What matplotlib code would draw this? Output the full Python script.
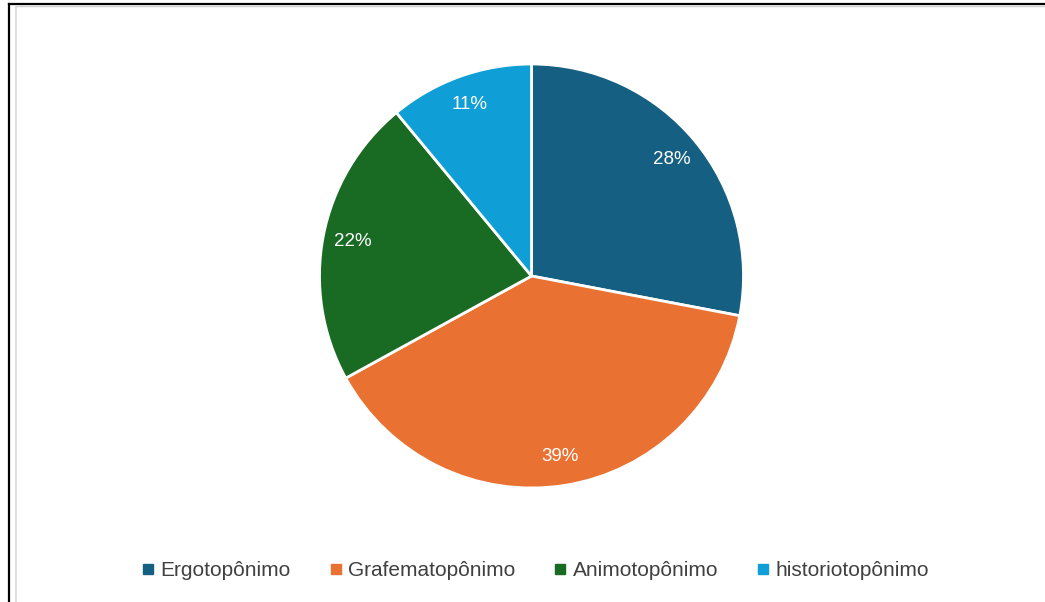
import matplotlib
matplotlib.use("Agg")
import matplotlib.pyplot as plt
from matplotlib.lines import Line2D

categories = ["Ergotopônimo", "Grafematopônimo", "Animotopônimo", "historiotopônimo"]
values = [28, 39, 22, 11]
colors = ["#156082", "#E97132", "#196B24", "#0F9ED5"]

plt.rcParams['font.family'] = ['Liberation Sans', 'DejaVu Sans']

W, H = 1045, 602
fig = plt.figure(figsize=(W / 100, H / 100), dpi=100)
fig.patch.set_facecolor("white")

cx, cy, r = 531.5, 276, 212
ax = fig.add_axes([(cx - r) / W, (H - cy - r) / H, 2 * r / W, 2 * r / H])
wedges, texts, autotexts = ax.pie(
    values, colors=colors, startangle=90, counterclock=False,
    autopct=lambda p: f"{p:.0f}%", pctdistance=0.86,
    wedgeprops=dict(edgecolor="white", linewidth=2),
    textprops=dict(color="white", fontsize=13.5),
)
ax.set_xlim(-1, 1)
ax.set_ylim(-1, 1)
ax.set_aspect("equal")
ax.axis("off")

handles = [Line2D([0], [0], marker="s", linestyle="none", markersize=7,
                  markerfacecolor=c, markeredgecolor=c) for c in colors]
fig.legend(handles, categories, loc="center", bbox_to_anchor=(536 / W, 1 - 571 / H),
           ncol=4, frameon=False, fontsize=15, handlelength=0.5, handletextpad=0.35,
           columnspacing=1.9, labelcolor="#404040")

# frame lines
fig.add_artist(Line2D([8.5 / W, 1], [1 - 3.5 / H, 1 - 3.5 / H], color="black", lw=1.6))
fig.add_artist(Line2D([8.5 / W, 8.5 / W], [0, 1 - 3.5 / H], color="black", lw=1.6))
fig.add_artist(Line2D([16 / W, 1], [1 - 5.5 / H, 1 - 5.5 / H], color="#d0d0d0", lw=1))
fig.add_artist(Line2D([16 / W, 16 / W], [0, 1 - 5.5 / H], color="#d9d9d9", lw=1.2))

fig.savefig("out.png", dpi=100, facecolor="white")
